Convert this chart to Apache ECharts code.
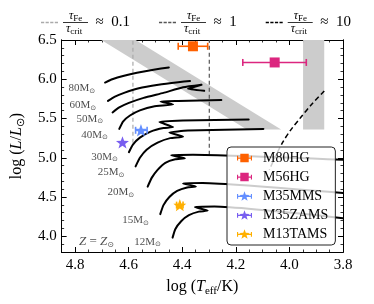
<!DOCTYPE html>
<html><head><meta charset="utf-8">
<script src="https://cdn.jsdelivr.net/npm/echarts@6/dist/echarts.min.js"></script>
<style>html,body{margin:0;padding:0;background:#fff}#c{width:374px;height:304px}</style>
</head><body><div id="c"></div>
<script>
// ---- data ----
const xTicks = [3.8, 4.0, 4.2, 4.4, 4.6, 4.8];
const yTicks = [4.0, 4.5, 5.0, 5.5, 6.0, 6.5];

const trackNames = ['80', '60', '50', '40', '30', '25', '20', '15', '12'];
const track80 = [[4.688,5.958],[4.661,6.0],[4.617,6.045],[4.569,6.083],[4.507,6.122],[4.450,6.15]];
const track60 = [[4.677,5.724],[4.653,5.776],[4.617,5.827],[4.562,5.885],[4.489,5.929],[4.415,5.962],[4.371,5.978]];
const track50 = [[4.660,5.577],[4.635,5.641],[4.599,5.699],[4.544,5.763],[4.470,5.827],[4.397,5.897],[4.328,5.929],[4.379,5.878],[4.318,5.853]];
const track40 = [[4.635,5.368],[4.621,5.462],[4.595,5.538],[4.558,5.603],[4.507,5.654],[4.434,5.679],[4.481,5.718],[4.415,5.724],[4.254,5.735]];
const track30 = [[4.599,5.071],[4.584,5.167],[4.558,5.256],[4.518,5.333],[4.470,5.378],[4.434,5.391],[4.485,5.455],[4.397,5.474],[4.152,5.487]];
const track25 = [[4.574,4.891],[4.558,5.0],[4.533,5.103],[4.492,5.192],[4.445,5.25],[4.397,5.269],[4.448,5.321],[4.379,5.346],[4.097,5.368]];
const track20 = [[4.529,4.632],[4.514,4.744],[4.492,4.846],[4.463,4.936],[4.426,4.981],[4.390,4.994],[4.441,5.032],[4.360,5.038],[3.8,4.974]];
const track15 = [[4.482,4.282],[4.470,4.397],[4.448,4.5],[4.419,4.577],[4.382,4.622],[4.349,4.635],[4.397,4.673],[4.324,4.679],[3.8,4.551]];
const track12 = [[4.436,3.983],[4.426,4.090],[4.404,4.192],[4.375,4.269],[4.338,4.314],[4.305,4.327],[4.353,4.372],[4.280,4.378],[3.8,4.231]];
const tracks = [track80, track60, track50, track40, track30, track25, track20, track15, track12];
const trackLabelPos = [[4.775,5.881],[4.771,5.667],[4.745,5.496],[4.727,5.295],[4.690,5.013],[4.666,4.812],[4.629,4.560],[4.574,4.205],[4.529,3.927]];
const metallicityLabelPos = [4.72, 3.927];

const tauNames = ['0.1', '1', '10'];
const tau01Line = [[4.584,5.19],[4.584,6.5]];
const tau1Line = [[4.299,5.04],[4.299,6.5]];
const tau10Curve = [[3.870,5.85],[3.914,5.692],[3.958,5.513],[3.994,5.359],[4.023,5.209],[4.049,5.038],[4.075,4.846]];
const grayBand = [[4.702,6.5],[4.574,6.5],[4.031,5.359],[4.159,5.359]];
const grayStrip = [[3.949,6.5],[3.870,6.5],[3.870,5.359],[3.949,5.359]];

const modelNames = ['M80HG', 'M56HG', 'M35MMS', 'M35ZAMS', 'M13TAMS'];
const modelLogT = [4.36, 4.055, 4.554, 4.623, 4.409];
const modelLogL = [6.42, 6.214, 5.35, 5.196, 4.397];
const modelTlo = [4.305, 3.937, 4.531, null, 4.397];
const modelThi = [4.415, 4.174, 4.574, null, 4.421];

// ---- styles ----
const modelColors = ['#FE6100', '#DC267F', '#648FFF', '#785EF0', '#FFB000'];
const SERIF = 'Liberation Serif';
const STAR = 'path://M8,0.1L9.35,3.84L13.33,3.97L10.19,6.41L11.29,10.23L8,8L4.71,10.23L5.81,6.41L2.67,3.97L6.65,3.84Z';
const BAR = 'M0,5h16v1.2h-16zM0,3h1.2v5.2h-1.2zM14.8,3h1.2v5.2h-1.2z';
const ICON_SQ = 'path://' + BAR + 'M3.5,1h9v9h-9z';
const ICON_STAR = 'path://' + BAR + STAR.slice(7);
const ICON_DASH = 'path://M0,0h3.2v1.3h-3.2zM4.6,0h3.2v1.3h-3.2zM9.2,0h3.2v1.3h-3.2zM13.8,0h3.2v1.3h-3.2z';
const modelSymbols = ['rect', 'rect', STAR, STAR, STAR];
const modelSizes = [10, 10, 13, 13, 13];
const modelIcons = [ICON_SQ, ICON_SQ, ICON_STAR, ICON_STAR, ICON_STAR];
const tauColors = ['#aaaaaa', '#555555', '#000000'];

const chart = echarts.init(document.getElementById('c'), null, {renderer: 'canvas'});

function axisPair(dim, position, minorInterval, majorValues, min, max, withLabels) {
  const common = {type: 'value', position, min, max, splitLine: {show: false},
    inverse: dim === 'x', axisLine: {show: true, lineStyle: {color: '#000', width: 1}}};
  const minor = Object.assign({}, common, {interval: minorInterval,
    axisTick: {show: true, inside: true, length: 2.5, lineStyle: {color: '#000', width: 0.8}},
    axisLabel: {show: false}});
  const major = Object.assign({}, common, {
    axisTick: {show: true, inside: true, length: 5, customValues: majorValues, lineStyle: {color: '#000', width: 1}},
    axisLabel: {show: withLabels, customValues: majorValues, formatter: v => v.toFixed(1),
      fontFamily: SERIF, fontSize: 15, color: '#000', margin: dim === 'x' ? 6 : 5}});
  return [minor, major];
}

const xAxes = [].concat(
  axisPair('x', 'bottom', 0.05, xTicks, 3.8, 4.85, true),
  axisPair('x', 'top', 0.05, xTicks, 3.8, 4.85, false));
const yAxes = [].concat(
  axisPair('y', 'left', 0.1, yTicks, 3.8, 6.5, true),
  axisPair('y', 'right', 0.1, yTicks, 3.8, 6.5, false));

xAxes[1].name = '{r|log (}{i|T}{s|eff}{r|/K)}';
xAxes[1].nameLocation = 'middle';
xAxes[1].nameGap = 26;
xAxes[1].nameTextStyle = {rich: {
  r: {fontFamily: SERIF, fontSize: 16, lineHeight: 18, color: '#000'},
  i: {fontFamily: SERIF, fontSize: 16, fontStyle: 'italic', lineHeight: 18, color: '#000'},
  s: {fontFamily: SERIF, fontSize: 11, lineHeight: 18, verticalAlign: 'top', padding: [8, 0, 0, 0], color: '#000'}}};
yAxes[1].name = '{r|log (}{i|L}{r|/}{i|L}{s|⊙}{r|)}';
yAxes[1].nameLocation = 'middle';
yAxes[1].nameGap = 30;
yAxes[1].nameRotate = 90;
yAxes[1].nameTextStyle = xAxes[1].nameTextStyle;

function polySeries(pts, color) {
  return {type: 'custom', silent: true, clip: true, z: 1, data: [0],
    renderItem: (params, api) => ({type: 'polygon', shape: {points: pts.map(p => api.coord(p))}, style: {fill: color}})};
}

const series = [];
series.push(polySeries(grayBand, '#cccccc'));
series.push(polySeries(grayStrip, '#cccccc'));

tracks.forEach((t, i) => series.push({
  type: 'line', name: 'track' + trackNames[i], data: t, showSymbol: false, symbol: 'none', silent: true,
  smooth: 0.15, z: 3, lineStyle: {color: '#000', width: 2, cap: 'round', join: 'round'}}));

[tau01Line, tau1Line, tau10Curve].forEach((t, i) => series.push({
  type: 'line', name: tauNames[i], data: t, showSymbol: false, symbol: 'none', silent: true, smooth: i === 2 ? 0.3 : 0, z: 2,
  itemStyle: {color: tauColors[i]},
  lineStyle: {color: tauColors[i], width: i === 2 ? 1.5 : 1.2, type: i === 2 ? [5, 3] : [4, 3]}}));

series.push({type: 'scatter', name: 'labels', silent: true, symbolSize: 0, z: 4,
  data: trackLabelPos.map((p, i) => ({name: trackNames[i], value: p})),
  label: {show: true, position: 'inside', formatter: p => '{a|' + p.name + 'M}{s|⊙}',
    rich: {a: {fontFamily: SERIF, fontSize: 11, lineHeight: 12, color: '#222'},
      s: {fontFamily: 'DejaVu Sans', fontSize: 7, lineHeight: 12, verticalAlign: 'top', padding: [5, 0, 0, 0], color: '#222'}}}});

series.push({type: 'scatter', name: 'metallicity', silent: true, symbolSize: 0, z: 4,
  data: [metallicityLabelPos],
  label: {show: true, position: 'inside', formatter: '{i|Z}{a| = }{i|Z}{s|⊙}',
    rich: {a: {fontFamily: SERIF, fontSize: 13, lineHeight: 14, color: '#222'},
      i: {fontFamily: SERIF, fontSize: 13, fontStyle: 'italic', lineHeight: 14, color: '#222'},
      s: {fontFamily: 'DejaVu Sans', fontSize: 8, lineHeight: 14, verticalAlign: 'top', padding: [6, 0, 0, 0], color: '#222'}}}});

const errRows = [];
modelNames.forEach((n, i) => { if (modelTlo[i] != null) errRows.push([modelTlo[i], modelThi[i], modelLogL[i], i]); });
series.push({type: 'custom', name: 'errorbars', silent: true, z: 5, data: errRows,
  encode: {x: [0, 1], y: 2},
  renderItem: (params, api) => {
    const a = api.coord([api.value(0), api.value(2)]);
    const b = api.coord([api.value(1), api.value(2)]);
    const c = modelColors[api.value(3)];
    const st = {stroke: c, lineWidth: 1.6};
    return {type: 'group', children: [
      {type: 'line', shape: {x1: a[0], y1: a[1], x2: b[0], y2: b[1]}, style: st},
      {type: 'line', shape: {x1: a[0], y1: a[1] - 3.5, x2: a[0], y2: a[1] + 3.5}, style: st},
      {type: 'line', shape: {x1: b[0], y1: b[1] - 3.5, x2: b[0], y2: b[1] + 3.5}, style: st}]};
  }});

modelNames.forEach((n, i) => series.push({
  type: 'scatter', name: n, data: [[modelLogT[i], modelLogL[i]]], symbol: modelSymbols[i], symbolSize: modelSizes[i],
  symbolKeepAspect: true, z: 6, itemStyle: {color: modelColors[i], opacity: 1}}));

const option = {
  animation: false,
  backgroundColor: '#fff',
  grid: {left: 57, right: 31, top: 40, bottom: 52, containLabel: false},
  xAxis: xAxes,
  yAxis: yAxes,
  legend: [
    {data: tauNames.map(n => ({name: n, icon: ICON_DASH})), selectedMode: false, left: 41, top: 10, padding: 0,
      itemGap: 29, itemWidth: 17, itemHeight: 8,
      formatter: name => '{n|τ}{ns|Fe}\n{bar| }{t|  ≈  ' + name + '}\n{d|τ}{ds|crit}',
      textStyle: {rich: {
        n: {fontFamily: SERIF, fontStyle: 'italic', fontSize: 12, lineHeight: 12, padding: [0, 0, 0, 6], color: '#000'},
        ns: {fontFamily: SERIF, fontSize: 9, lineHeight: 12, verticalAlign: 'top', padding: [4, 0, 0, 0], color: '#000'},
        d: {fontFamily: SERIF, fontStyle: 'italic', fontSize: 12, lineHeight: 12, padding: [0, 0, 0, 3], color: '#000'},
        ds: {fontFamily: SERIF, fontSize: 9, lineHeight: 12, verticalAlign: 'top', padding: [4, 0, 0, 0], color: '#000'},
        bar: {width: 25, height: 0.8, lineHeight: 1, fontSize: 1, backgroundColor: '#000'},
        t: {fontFamily: SERIF, fontSize: 15, lineHeight: 1, color: '#000'}}}},
    {data: modelNames.map((n, i) => ({name: n, icon: modelIcons[i]})), selectedMode: false,
      orient: 'vertical', left: 227, top: 147, itemWidth: 15, itemHeight: 14, itemGap: 5,
      padding: [4, 7, 4, 10], itemStyle: {borderWidth: 0},
      backgroundColor: 'rgba(255,255,255,0.8)', borderColor: '#222', borderWidth: 1, borderRadius: 4,
      textStyle: {fontFamily: SERIF, fontSize: 14, color: '#000', padding: [0, 0, 0, 6]}}
  ],
  series
};
chart.setOption(option);
</script></body></html>
